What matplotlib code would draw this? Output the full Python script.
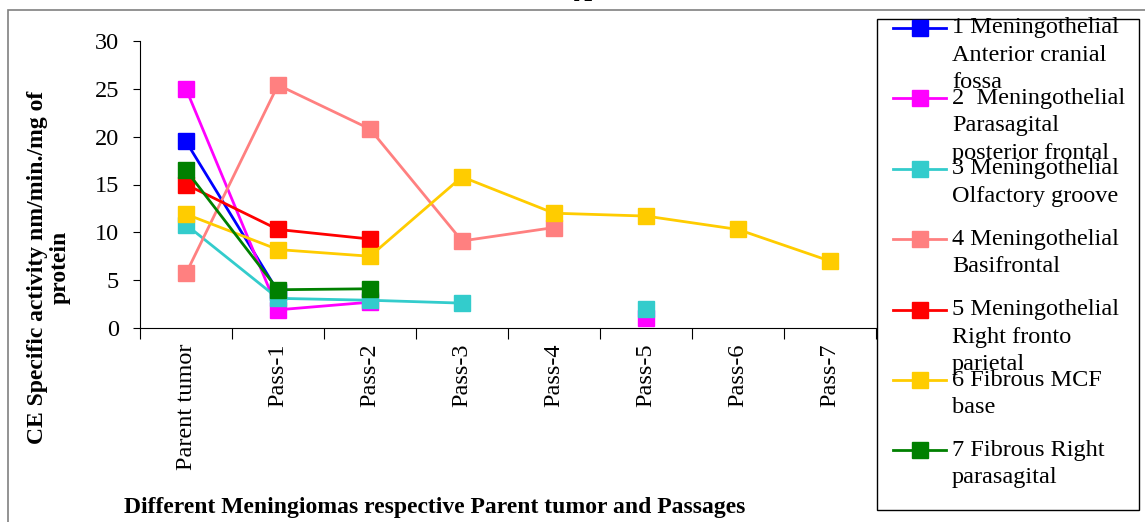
import numpy as np
import matplotlib
matplotlib.use('Agg')
import matplotlib.pyplot as plt
from matplotlib.lines import Line2D
from matplotlib.patches import Rectangle

plt.rcParams['font.family'] = ['Liberation Serif', 'DejaVu Serif']

# data
categories = ['Parent tumor', 'Pass-1', 'Pass-2', 'Pass-3', 'Pass-4', 'Pass-5', 'Pass-6', 'Pass-7']
nan = np.nan
s1 = [19.5, 3.8, nan, nan, nan, nan, nan, nan]
s2 = [25.0, 1.9, 2.7, nan, nan, 1.0, nan, nan]
s3 = [10.8, 3.1, 2.9, 2.6, nan, 2.0, nan, nan]
s4 = [5.7, 25.4, 20.8, 9.1, 10.5, nan, nan, nan]
s5 = [15.0, 10.3, 9.3, nan, nan, nan, nan, nan]
s6 = [11.9, 8.2, 7.5, 15.8, 12.0, 11.7, 10.3, 7.0]
s7 = [16.5, 4.0, 4.1, nan, nan, nan, nan, nan]
series = [s1, s2, s3, s4, s5, s6, s7]
labels = [
    ['1 Meningothelial', 'Anterior cranial', 'fossa'],
    ['2  Meningothelial', 'Parasagital', 'posterior frontal'],
    ['3 Meningothelial', 'Olfactory groove'],
    ['4 Meningothelial', 'Basifrontal'],
    ['5 Meningothelial', 'Right fronto', 'parietal'],
    ['6 Fibrous MCF', 'base'],
    ['7 Fibrous Right', 'parasagital'],
]
colors = ['#0000FF', '#FF00FF', '#33CCCC', '#FF8080', '#FF0000', '#FFCC00', '#008000']

W, H = 1145, 522
fig = plt.figure(figsize=(W / 100, H / 100), dpi=100)

def fx(px):
    return px / W

def fy(py):
    return 1 - py / H

ax = fig.add_axes([fx(140), fy(328), fx(876) - fx(140), fy(41) - fy(328)])
x = np.arange(len(categories)) + 0.5
for vals, c in zip(series, colors):
    ax.plot(x, vals, '-s', color=c, lw=2.0, ms=11, clip_on=False)

ax.set_xlim(0, len(categories))
ax.set_ylim(0, 30)
ax.set_yticks(range(0, 31, 5))
ax.set_xticks(range(0, len(categories) + 1))
ax.set_xticklabels([])
ax.set_xticks(x, minor=True)
ax.set_xticklabels(categories, minor=True, rotation=90, fontsize=17.5)
ax.tick_params(axis='x', which='major', length=8, direction='out')
ax.tick_params(axis='x', which='minor', length=0, pad=11)
ax.tick_params(axis='y', length=5, labelsize=17.5, pad=10)
for sp in ['top', 'right']:
    ax.spines[sp].set_visible(False)

fig.text(fx(49), fy(267), 'CE Specific activity nm/min./mg of\nprotein',
         rotation=90, ha='center', va='center', multialignment='center',
         fontsize=17, fontweight='bold', linespacing=1.1)
fig.text(fx(435), fy(508), 'Different Meningiomas respective Parent tumor and Passages',
         ha='center', va='center', fontsize=17, fontweight='bold')
fig.text(fx(583), fy(6), 'A', ha='center', va='bottom', fontsize=18, fontweight='bold')

# outer frame
fig.add_artist(Rectangle((fx(8), -0.1), 1.2, fy(10) + 0.1, transform=fig.transFigure,
                         fill=False, edgecolor='#808080', lw=1.2))

# legend drawn by hand so that long entries overlap like the original
fig.add_artist(Rectangle((fx(877), fy(510)), fx(1139) - fx(877), fy(19) - fy(510),
                         transform=fig.transFigure, fill=False, edgecolor='black', lw=1.0))
for i, (lab, c) in enumerate(zip(labels, colors)):
    yy = 28 + i * 70.4
    fig.add_artist(Line2D([fx(893), fx(946)], [fy(yy), fy(yy)], color=c, lw=2.0,
                          transform=fig.transFigure))
    fig.add_artist(Line2D([fx(920)], [fy(yy)], marker='s', ms=11, color=c,
                          transform=fig.transFigure))
    for k, line in enumerate(lab):
        fig.text(fx(952), fy(yy + k * 27.5), line, ha='left', va='center', fontsize=17.5)

fig.savefig('out.png', dpi=100)
